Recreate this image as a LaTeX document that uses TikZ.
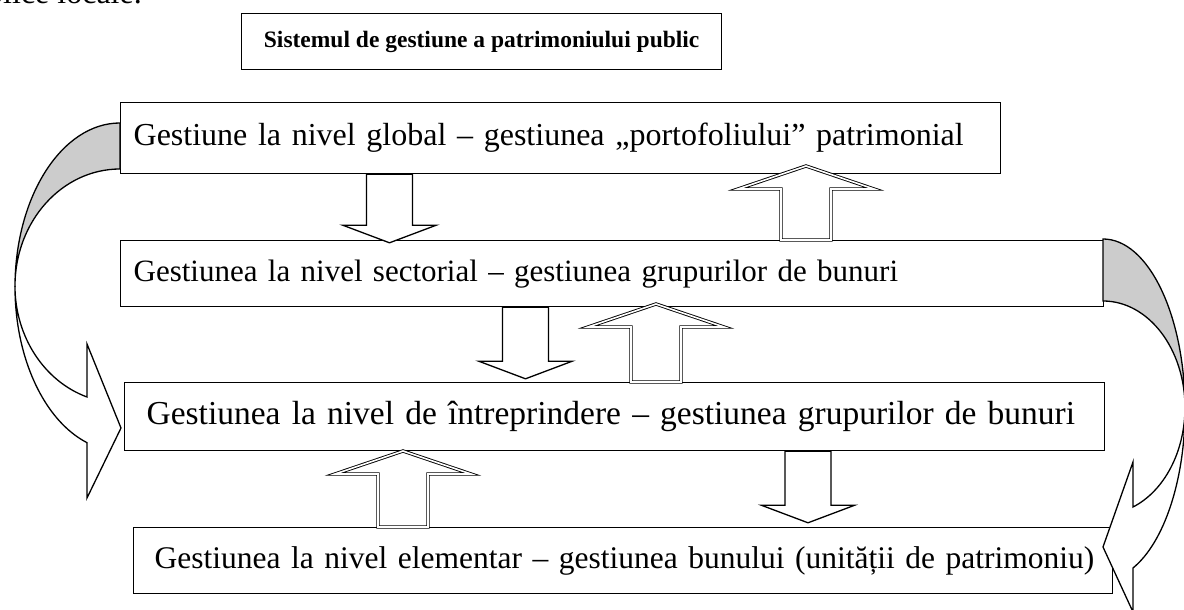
\documentclass[tikz,border=0pt]{standalone}
\usepackage{fontspec}
\setmainfont{Liberation Serif}
\usepackage{tikz}

\definecolor{gri}{RGB}{204,204,204}
\tikzset{
  nivel/.style={draw, line width=1.3pt, anchor=north west, align=left, inner ysep=0pt, font=\fontsize{32}{38}\selectfont},
  titlu/.style={draw, line width=1.3pt, anchor=north west, inner sep=0pt, minimum width=480pt, minimum height=56pt, font=\fontsize{23.5}{28}\selectfont\bfseries},
  jos/.style={line width=1.3pt, fill=white},
  sus/.style={double, line width=0.9pt, double distance=1.6pt, fill=white},
  curba/.style={line width=1.3pt}
}
\newcommand{\sageatajos}[2]{\draw [jos, shift={#1}] (-23,0) -- (-23,-#2) -- (-46.5,-#2) -- (0,-#2-17.5) -- (46.5,-#2) -- (23,-#2) -- (23,0) -- cycle;}
\newcommand{\sageatasus}[2]{\draw [sus, shift={#1}] (-25,0) -- (-25,#2) -- (-68,#2) -- (0,#2+23) -- (68,#2) -- (25,#2) -- (25,0) -- cycle;}

\begin{document}
\begin{tikzpicture}[x=1pt, y=1pt]
\useasboundingbox (0,0) rectangle (1184,610);

\node [font=\fontsize{32}{38}\selectfont, anchor=base east, inner sep=0pt] (fragment) at (142,606) {publice locale.};

\node [titlu] (titlu) at (241,597) {Sistemul de gestiune a patrimoniului public};
\node [nivel, inner xsep=13pt, text width=854pt, minimum height=71pt] (global) at (120,508) {\mbox{Gestiune la nivel global – gestiunea „portofoliului” patrimonial}};
\node [nivel, inner xsep=13pt, text width=957pt, minimum height=66pt, font=\fontsize{31}{38}\selectfont] (sectorial) at (120,370) {\mbox{Gestiunea la nivel sectorial – gestiunea grupurilor de bunuri}};
\node [nivel, inner xsep=22pt, text width=936pt, minimum height=68pt, font=\fontsize{33.5}{38}\selectfont] (intreprindere) at (124,228) {\mbox{Gestiunea la nivel de întreprindere – gestiunea grupurilor de bunuri}};
\node [nivel, inner xsep=21pt, text width=937pt, minimum height=66pt, font=\fontsize{31.5}{38}\selectfont] (elementar) at (133,83) {\mbox{Gestiunea la nivel elementar – gestiunea bunului (unității de patrimoniu)}};

\sageatajos{(389.5,0 |- global.south)}{51}
\sageatasus{(806,0 |- sectorial.north)}{51}
\sageatajos{(525.5,0 |- sectorial.south)}{54}
\sageatasus{(656,0 |- intreprindere.north)}{55}
\sageatasus{(403,0 |- elementar.north)}{53}
\sageatajos{(808,0 |- intreprindere.south)}{54}

% global -> intreprindere
\draw [curba, fill=gri] (120,487) arc [start angle=90, end angle=180, x radius=105pt, y radius=164pt] -- (15,324) arc [start angle=180, end angle=90, x radius=105pt, y radius=117pt] -- cycle;
\draw [curba, fill=white] (15,323) arc [start angle=180, end angle=251.7, x radius=105pt, y radius=164pt] -- (87,112) -- (121,182) -- (87,266) -- (87,213) arc [start angle=251.7, end angle=180, x radius=105pt, y radius=117pt] -- cycle;

% sectorial -> elementar
\draw [curba, fill=gri] (1103,371) arc [start angle=90, end angle=0, x radius=82pt, y radius=170.4pt] -- (1185,202.3) arc [start angle=0, end angle=90, x radius=82pt, y radius=106.7pt] -- cycle;
\draw [curba, fill=white] (1185,200.6) arc [start angle=0, end angle=-68.5, x radius=82pt, y radius=170.4pt] -- (1133,-2) -- (1103,63) -- (1133,148) -- (1133,103) arc [start angle=-68.5, end angle=0, x radius=82pt, y radius=106.7pt] -- cycle;

\end{tikzpicture}
\end{document}
